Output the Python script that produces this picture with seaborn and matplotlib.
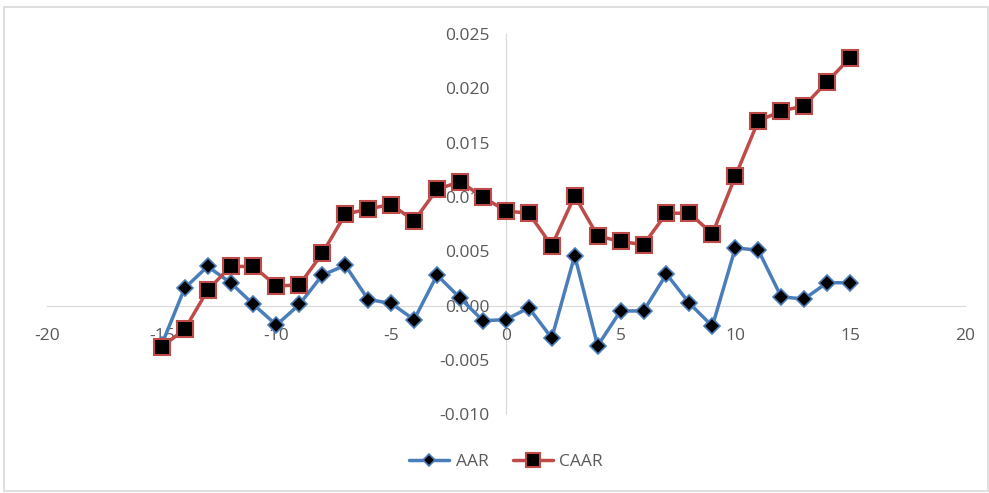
import numpy as np
import pandas as pd
import seaborn as sns
import matplotlib.pyplot as plt
from matplotlib.patches import Rectangle

days = list(range(-15, 16))
aar = [-0.0036, 0.0016, 0.0036, 0.0021, 0.0001, -0.0018, 0.0001, 0.0028,
       0.0037, 0.00055, 0.0002, -0.0013, 0.0028, 0.0007, -0.0014, -0.0013,
       -0.0002, -0.0030, 0.0046, -0.0037, -0.0005, -0.0005, 0.0029, 0.0002,
       -0.0019, 0.0053, 0.0051, 0.0008, 0.0006, 0.0021, 0.0021]
caar = [-0.0038, -0.0022, 0.0014, 0.0036, 0.0036, 0.0018, 0.0019, 0.0048,
        0.0084, 0.0089, 0.0093, 0.0078, 0.0107, 0.0114, 0.0100, 0.0087,
        0.0085, 0.0055, 0.0101, 0.0064, 0.0059, 0.0056, 0.0085, 0.0085,
        0.0066, 0.0119, 0.0170, 0.0179, 0.0184, 0.0206, 0.0228]

x_ticks = [-20, -15, -10, -5, 0, 5, 10, 15, 20]
y_ticks = [-0.010, -0.005, 0.000, 0.005, 0.010, 0.015, 0.020, 0.025]

blue = "#4a7ebb"
red = "#be4b48"
grey = "#595959"

sns.set_style("white")
plt.rcParams['font.family'] = ['Open Sans', 'DejaVu Sans']

df = pd.DataFrame({"day": days, "AAR": aar, "CAAR": caar})

fig = plt.figure(figsize=(9.89, 4.93), dpi=100)
ax = fig.add_axes([0.0475, 0.16, 0.928, 0.771])

sns.lineplot(data=df, x="day", y="AAR", ax=ax, color=blue, linewidth=2.5,
             marker="D", markersize=8, markerfacecolor="black",
             markeredgecolor=blue, markeredgewidth=1.2, label="AAR")
sns.lineplot(data=df, x="day", y="CAAR", ax=ax, color=red, linewidth=2.5,
             marker="s", markersize=12, markerfacecolor="black",
             markeredgecolor=red, markeredgewidth=1.5, label="CAAR")

ax.set_xlim(-20, 20)
ax.set_ylim(-0.010, 0.025)
ax.set_xlabel("")
ax.set_ylabel("")

# axes crossing at the origin like an excel scatter chart
for side in ["top", "right"]:
    ax.spines[side].set_visible(False)
ax.spines["left"].set_position(("data", 0))
ax.spines["bottom"].set_position(("data", 0))
ax.spines["left"].set_color("#d9d9d9")
ax.spines["bottom"].set_color("#d9d9d9")
ax.spines["left"].set_zorder(0)
ax.spines["bottom"].set_zorder(0)

ax.set_xticks(x_ticks)
ax.set_xticklabels([str(t) for t in x_ticks])
ax.set_yticks(y_ticks)
ax.set_yticklabels([f"{t:.3f}" for t in y_ticks])
ax.tick_params(length=0, labelsize=12.5, colors=grey)
ax.tick_params(axis="x", pad=16)
ax.tick_params(axis="y", pad=12)

leg = ax.legend(loc="center", bbox_to_anchor=(0.5, -0.125), ncol=2,
                frameon=False, fontsize=12.5, handlelength=2.3, handletextpad=0.4,
                columnspacing=1.4, markerscale=0.8)
for t in leg.get_texts():
    t.set_color(grey)

# chart area border
fig.patches.append(Rectangle((0.004, 0.004), 0.995, 0.982, transform=fig.transFigure,
                             fill=False, edgecolor="#d9d9d9", linewidth=1.2))

fig.savefig("out.png", dpi=100)
